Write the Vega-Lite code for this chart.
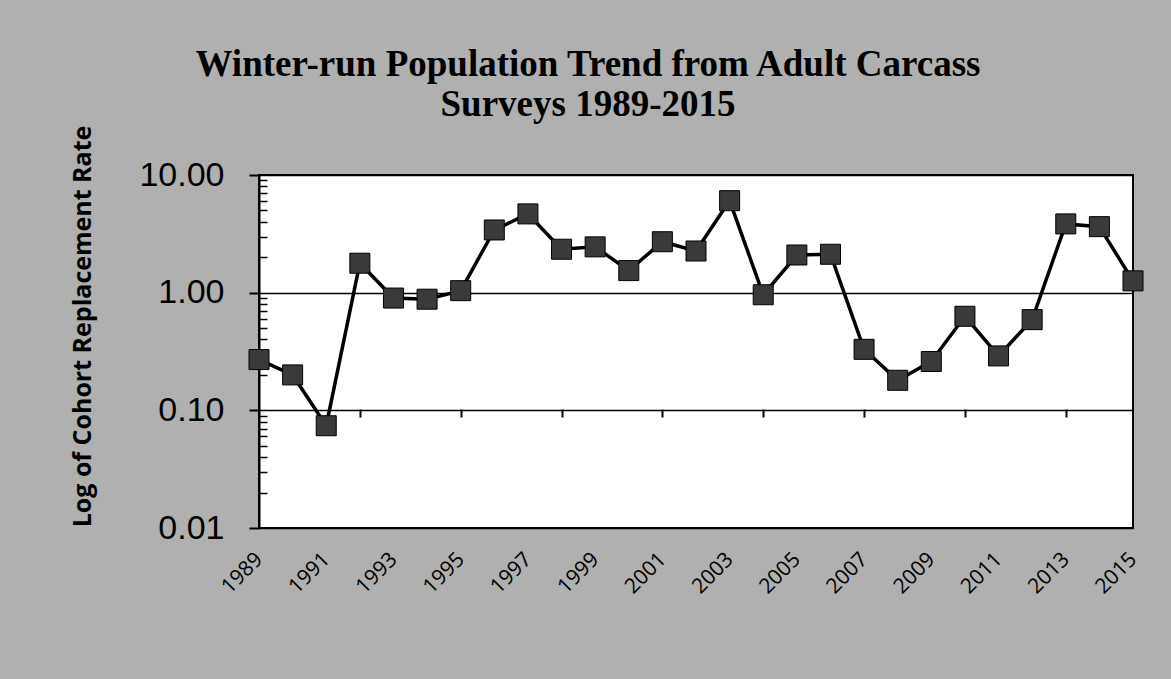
{
  "$schema": "https://vega.github.io/schema/vega-lite/v6.json",
  "width": 874,
  "height": 353,
  "autosize": {"type": "none"},
  "padding": {"left": 259, "top": 175, "right": 38, "bottom": 151},
  "background": "#b0b0b0",
  "title": {
    "text": ["Winter-run  Population Trend from Adult Carcass", "Surveys 1989-2015"],
    "anchor": "middle",
    "frame": "group",
    "font": "Liberation Serif",
    "fontSize": 37,
    "fontWeight": "bold",
    "color": "black",
    "lineHeight": 40,
    "dx": -108,
    "offset": -28,
    "baseline": "alphabetic"
  },
  "data": {
    "values": [
      {"year": 1989, "rate": 0.27},
      {"year": 1990, "rate": 0.20},
      {"year": 1991, "rate": 0.074},
      {"year": 1992, "rate": 1.78},
      {"year": 1993, "rate": 0.90},
      {"year": 1994, "rate": 0.88},
      {"year": 1995, "rate": 1.04},
      {"year": 1996, "rate": 3.41},
      {"year": 1997, "rate": 4.67},
      {"year": 1998, "rate": 2.34},
      {"year": 1999, "rate": 2.45},
      {"year": 2000, "rate": 1.54},
      {"year": 2001, "rate": 2.71},
      {"year": 2002, "rate": 2.26},
      {"year": 2003, "rate": 6.05},
      {"year": 2004, "rate": 0.96},
      {"year": 2005, "rate": 2.09},
      {"year": 2006, "rate": 2.12},
      {"year": 2007, "rate": 0.33},
      {"year": 2008, "rate": 0.18},
      {"year": 2009, "rate": 0.26},
      {"year": 2010, "rate": 0.63},
      {"year": 2011, "rate": 0.29},
      {"year": 2012, "rate": 0.59},
      {"year": 2013, "rate": 3.84},
      {"year": 2014, "rate": 3.64},
      {"year": 2015, "rate": 1.26}
    ]
  },
  "layer": [
    {
      "mark": {"type": "line", "color": "black", "strokeWidth": 3.5},
      "encoding": {
        "x": {
          "field": "year", "type": "quantitative",
          "scale": {"domain": [1989, 2015], "nice": false, "zero": false},
          "axis": {
            "orient": "bottom",
            "values": [1989, 1991, 1993, 1995, 1997, 1999, 2001, 2003, 2005, 2007, 2009, 2011, 2013, 2015],
            "format": "d",
            "labelAngle": -45,
            "labelAlign": "right",
            "labelBaseline": "middle",
            "labelFont": "Open Sans",
            "labelFontSize": 21,
            "labelColor": "black",
            "labelPadding": 28,
            "labelOverlap": false,
            "labelFlush": false,
            "ticks": false,
            "tickSize": 0,
            "domain": false,
            "grid": false,
            "title": null
          }
        },
        "y": {
          "field": "rate", "type": "quantitative",
          "scale": {"type": "log", "domain": [0.01, 10], "nice": false},
          "axis": {
            "orient": "left",
            "values": [0.01, 0.1, 1, 10],
            "format": ".2f",
            "labelFont": "Liberation Sans",
            "labelFontSize": 34,
            "labelColor": "black",
            "labelPadding": 25,
            "labelFlush": false,
            "labelOverlap": false,
            "tickSize": 10,
            "tickWidth": 2,
            "tickColor": "black",
            "domainColor": "black",
            "domainWidth": 2,
            "grid": true,
            "gridColor": "black",
            "gridWidth": 1.5,
            "gridOpacity": 1,
            "title": "Log of Cohort Replacement Rate",
            "titleFont": "Open Sans",
            "titleFontSize": 25,
            "titleFontWeight": "bold",
            "titleColor": "black",
            "titleAngle": -90,
            "titleX": -177,
            "titleY": 151,
            "titleAlign": "center",
            "titleBaseline": "middle"
          }
        }
      }
    },
    {
      "mark": {"type": "point", "shape": "square", "filled": true, "size": 400, "color": "#3a3a3a", "stroke": "black", "strokeWidth": 1, "opacity": 1},
      "encoding": {
        "x": {
          "field": "year", "type": "quantitative",
          "scale": {"domain": [1989, 2015], "nice": false, "zero": false},
          "axis": {
            "orient": "bottom",
            "values": [1992, 1995, 1998, 2001, 2004, 2007, 2010, 2013],
            "offset": -119,
            "labels": false,
            "ticks": true,
            "tickSize": 8,
            "tickWidth": 2,
            "tickColor": "black",
            "domain": false,
            "grid": false,
            "title": null
          }
        },
        "y": {
          "field": "rate", "type": "quantitative",
          "scale": {"type": "log", "domain": [0.01, 10], "nice": false},
          "axis": {
            "orient": "left",
            "values": [0.02, 0.03, 0.04, 0.05, 0.06, 0.07, 0.08, 0.09, 0.2, 0.3, 0.4, 0.5, 0.6, 0.7, 0.8, 0.9, 2, 3, 4, 5, 6, 7, 8, 9],
            "labels": false,
            "tickSize": -8,
            "tickWidth": 1.5,
            "tickColor": "black",
            "domain": false,
            "grid": false,
            "title": null
          }
        }
      }
    }
  ],
  "resolve": {"axis": {"x": "independent", "y": "independent"}},
  "config": {"view": {"fill": "white", "stroke": "black", "strokeWidth": 2}}
}
